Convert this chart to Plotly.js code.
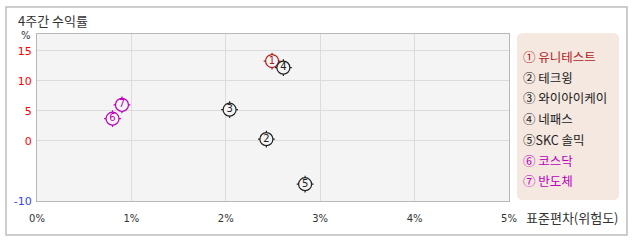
<!DOCTYPE html>
<html><head><meta charset="utf-8">
<script src="https://cdn.plot.ly/plotly-3.0.1.min.js"></script>
<style>html,body{margin:0;padding:0;background:#fff;}#c{width:638px;height:242px;}</style>
</head><body><div id="c"></div>
<script>
const names = ['① 유니테스트','② 테크윙','③ 와이아이케이','④ 네패스','⑤SKC 솔믹','⑥ 코스닥','⑦ 반도체'];
const nums = ['1','2','3','4','5','6','7'];
const risk = [2.49, 2.43, 2.04, 2.61, 2.84, 0.80, 0.90];
const ret = [13.3, 0.3, 5.2, 12.2, -7.2, 3.7, 6.0];
const colors = ['#b01c1c','#222222','#222222','#222222','#222222','#bb00bb','#bb00bb'];
const yTicks = [-10, 0, 5, 10, 15];
const xTicks = [0, 1, 2, 3, 4, 5];

const L=37, R=509, T=34, B=201;
const px = v => (v - L) / (R - L);
const py = v => (B - v) / (B - T);
const FONT = 'Noto Sans CJK KR, sans-serif';

const traces = [
  {x: risk, y: ret, mode: 'markers', type: 'scatter', hoverinfo: 'skip',
   marker: {symbol: 'cross-thin-open', size: 12, color: colors, line: {color: colors, width: 1.2}}},
  {x: risk, y: ret, mode: 'markers+text', type: 'scatter', text: nums, textposition: 'middle center',
   textfont: {family: 'DejaVu Sans', size: 10, color: colors}, hoverinfo: 'skip',
   marker: {symbol: 'circle', size: 13, color: '#f4f4f4', line: {color: colors, width: 1.2}}}
];

const annotations = [
  {text: '4주간 수익률', xref: 'paper', yref: 'paper', x: px(16), y: py(20), xanchor: 'left', yanchor: 'middle', showarrow: false, font: {family: FONT, size: 13, color: '#333'}},
  {text: '%', xref: 'paper', yref: 'paper', x: px(26), y: py(35), xanchor: 'center', yanchor: 'middle', showarrow: false, font: {family: 'DejaVu Sans', size: 10, color: '#333'}},
  {text: '표준편차(위험도)', xref: 'paper', yref: 'paper', x: px(524), y: py(217), xanchor: 'left', yanchor: 'middle', showarrow: false, font: {family: FONT, size: 13, color: '#333'}}
];
const legY = [56, 77, 97, 118, 139, 160, 180];
names.forEach((n, i) => annotations.push({text: n, xref: 'paper', yref: 'paper', x: px(521), y: py(legY[i]), xanchor: 'left', yanchor: 'middle', showarrow: false, font: {family: FONT, size: 12.5, color: colors[i]}}));

const cx = (517 + 619) / 2, cy = (33 + 200) / 2, hw = 51, hh = 83.5, r = 6;
const rr = `M ${-hw + r} ${-hh} L ${hw - r} ${-hh} Q ${hw} ${-hh} ${hw} ${-hh + r} L ${hw} ${hh - r} Q ${hw} ${hh} ${hw - r} ${hh} L ${-hw + r} ${hh} Q ${-hw} ${hh} ${-hw} ${hh - r} L ${-hw} ${-hh + r} Q ${-hw} ${-hh} ${-hw + r} ${-hh} Z`;

const layout = {
  width: 638, height: 242, margin: {l: L, r: 638 - R, t: T, b: 242 - B},
  paper_bgcolor: '#ffffff', plot_bgcolor: '#f4f4f4', showlegend: false,
  xaxis: {range: [0, 5], tickvals: xTicks, ticktext: xTicks.map(v => v + '%'), showgrid: true, gridcolor: '#dcdcdc',
    zeroline: false, showline: true, mirror: true, linecolor: '#b8b8b8', ticks: '', ticklen: 0, ticklabelstandoff: 8,
    tickfont: {family: 'DejaVu Sans', size: 10, color: '#333'}, fixedrange: true},
  yaxis: {range: [-10, 17.8], tickvals: yTicks,
    ticktext: yTicks.map(v => `<span style="color:${v < 0 ? '#3344ff' : '#ff0000'}">${v}</span>`),
    showgrid: true, gridcolor: '#dcdcdc', zeroline: false, showline: true, mirror: true, linecolor: '#b8b8b8',
    ticks: '', ticklabelstandoff: 2, tickfont: {family: 'DejaVu Sans', size: 11, color: '#f00'}, fixedrange: true},
  shapes: [
    {type: 'rect', xref: 'paper', yref: 'paper', x0: px(6), x1: px(627), y0: py(235), y1: py(7), line: {color: '#bdbdbd', width: 1.5}, layer: 'below'},
    {type: 'path', xref: 'paper', yref: 'paper', xsizemode: 'pixel', ysizemode: 'pixel', xanchor: px(cx), yanchor: py(cy), path: rr, fillcolor: '#f5e8e0', line: {width: 0}}
  ],
  annotations: annotations
};
Plotly.newPlot('c', traces, layout, {staticPlot: true, displayModeBar: false});
</script></body></html>
